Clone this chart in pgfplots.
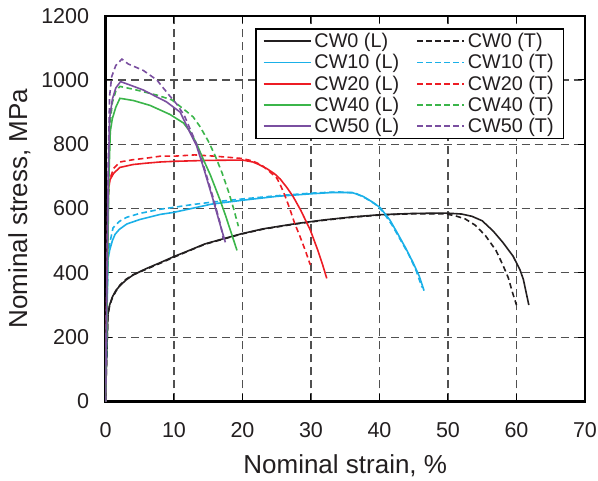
\documentclass[border=0pt]{standalone}
\usepackage{fontspec}
\setmainfont{Liberation Sans}
\usepackage{pgfplots}
\pgfplotsset{compat=1.18}
\definecolor{cwblack}{HTML}{231F20}
\definecolor{cwcyan}{HTML}{1AB0E8}
\definecolor{cwred}{HTML}{ED1C24}
\definecolor{cwgreen}{HTML}{3BB54A}
\definecolor{cwpurple}{HTML}{7A4FA0}
\definecolor{gridgray}{HTML}{505050}
\begin{document}
\begin{tikzpicture}
\begin{axis}[
  at={(0pt,0pt)}, anchor=south west,
  scale only axis, width=479.5pt, height=385.8pt,
  xmin=0, xmax=70, ymin=0, ymax=1200,
  xtick={0,10,...,70}, ytick={0,200,...,1200},
  tick align=inside, major tick length=7pt,
  xtick pos=both, ytick pos=both,
  tick style={line width=1pt, black},
  axis line style={line width=2.2pt, black},
  grid=major,
  major grid style={dash pattern=on 8pt off 5pt, line width=1.1pt, gridgray},
  /pgf/number format/assume math mode=true,
  /pgf/number format/1000 sep={},
  ticklabel style={font=\fontsize{21.5}{24}\selectfont, inner sep=0pt, text=cwblack},
  xticklabel style={anchor=base, yshift=-35.8pt},
  yticklabel style={anchor=east, xshift=-16.2pt},
  xlabel={Nominal strain, \%},
  ylabel={Nominal stress, MPa},
  label style={font=\fontsize{26}{30}\selectfont, text=cwblack},
  xlabel style={at={(axis description cs:0.5,-0.1879)}, anchor=base},
  ylabel style={at={(axis description cs:-0.1637,0.5)}, anchor=base},
  legend columns=2,
  legend cell align=left,
  legend style={at={(rel axis cs:0.3118,0.967)}, anchor=north west, draw=black, line width=1.5pt, fill=white,
    font=\fontsize{19.8}{22}\selectfont, text=cwblack, inner xsep=7pt, inner ysep=1.5pt, row sep=0pt,
    nodes={inner xsep=3pt, inner ysep=2.7pt},
    /tikz/every even column/.append style={column sep=14pt}},
  legend image code/.code={\draw[#1, line width=1.7pt] (0pt,0pt) -- (47pt,0pt);},
  Tline/.style={line width=1.6pt, dash pattern=on 5.5pt off 3.5pt},
  Lline/.style={line width=1.6pt},
]
% CW0
\addplot[cwblack, Lline] coordinates {
(0,0) (0.35,270) (0.6,300) (1,325) (1.5,345) (2.1,360) (3,378) (4,393) (5.8,412) (8,432) (9.9,450) (12,468) (14.5,490) (17,505) (19.9,522) (23,537) (27.7,553) (32,565) (36,574) (40.1,581) (45,585) (49.8,586) (52,583) (53.5,576) (55,562) (56.6,530) (58,495) (59.5,452) (60.5,410) (61,380) (61.4,340) (61.8,300)};
\addlegendentry{CW0 (L)}
\addplot[cwblack, Tline] coordinates {
(0,0) (0.35,265) (0.6,298) (1,322) (1.5,342) (2.1,362) (3,380) (4,394) (5.8,410) (8,430) (9.9,448) (12,467) (14.5,489) (17,504) (19.9,521) (23,536) (27.7,552) (32,564) (36,573) (40.1,580) (45,584) (49.5,584) (51,578) (52.5,568) (54,548) (55.5,515) (57,470) (58,425) (58.8,385) (59.4,340) (60,300)};
\addlegendentry{CW0 (T)}
% CW10
\addplot[cwcyan, Lline] coordinates {
(0,0) (0.35,440) (0.6,470) (1,500) (1.4,520) (2,535) (3.1,552) (5,566) (8,582) (9.9,588) (12.5,600) (15.5,614) (20,626) (25,638) (30,646) (33,650) (36,650) (37.6,638) (39,620) (40.1,603) (41.5,565) (42.5,528) (43.8,478) (44.9,432) (45.8,390) (46.5,345)};
\addlegendentry{CW10 (L)}
\addplot[cwcyan, Tline] coordinates {
(0,0) (0.35,460) (0.7,500) (1.1,540) (2,560) (3.1,573) (5,585) (8,598) (10,604) (12.5,612) (15.5,620) (20,630) (25,640) (30,648) (34,652) (36.5,648) (38,632) (39.5,612) (40.5,590) (41.8,550) (43,505) (44.2,460) (45.3,410) (46.2,355)};
\addlegendentry{CW10 (T)}
% CW20
\addplot[cwred, Lline] coordinates {
(0,0) (0.4,660) (0.66,690) (1.2,710) (2.1,728) (4,737) (5.8,741) (8,745) (10,747) (15,750) (20,751) (21.5,745) (22.3,738) (23.5,725) (24.7,708) (25.5,692) (26.5,665) (27.4,637) (28.5,595) (29.9,533) (31,470) (31.7,425) (32.3,383)};
\addlegendentry{CW20 (L)}
\addplot[cwred, Tline] coordinates {
(0,0) (0.35,620) (0.6,690) (1.2,725) (2.1,745) (4,752) (6,757) (8,763) (10,763) (13,767) (16,763) (19.9,756) (21.5,748) (22.8,735) (23.8,718) (25,695) (25.5,675) (26.2,640) (26.9,600) (27.6,555) (28.4,513) (29.2,468) (29.9,425)};
\addlegendentry{CW20 (T)}
% CW40
\addplot[cwgreen, Lline] coordinates {
(0,0) (0.5,700) (0.7,840) (1,880) (1.5,915) (2.1,943) (3,940) (4.1,936) (6.5,921) (9.4,893) (11.4,866) (12.5,835) (13.4,797) (14.3,752) (15.3,705) (16.7,628) (17.5,580) (18.3,528) (19.2,470)};
\addlegendentry{CW40 (L)}
\addplot[cwgreen, Tline] coordinates {
(0,0) (0.4,600) (0.6,850) (1,930) (1.5,965) (2.1,980) (3,976) (4.1,971) (7.5,953) (9.7,938) (11.9,901) (12.8,885) (13.8,855) (15,810) (16,765) (17,712) (18,650) (18.7,600) (19.4,545)};
\addlegendentry{CW40 (T)}
% CW50
\addplot[cwpurple, Lline] coordinates {
(0,0) (0.4,700) (0.6,880) (1,940) (1.5,975) (2.2,995) (3.5,985) (5.5,969) (8.9,932) (10.9,900) (12.3,838) (13.3,795) (14.3,728) (15.7,628) (16.6,560) (17.5,495)};
\addlegendentry{CW50 (L)}
\addplot[cwpurple, Tline] coordinates {
(0,0) (0.4,750) (0.6,950) (0.9,1010) (1.5,1045) (2.4,1065) (3.3,1050) (5.5,1030) (7.5,1000) (9.2,955) (10.4,925) (11.5,890) (12.3,850) (13.3,800) (14.3,735) (15.7,635) (16.8,550) (17.2,505)};
\addlegendentry{CW50 (T)}
\end{axis}
\pgfresetboundingbox
\path[use as bounding box] (-105.5pt,-79.5pt) rectangle (492.5pt,401.5pt);
\end{tikzpicture}
\end{document}
